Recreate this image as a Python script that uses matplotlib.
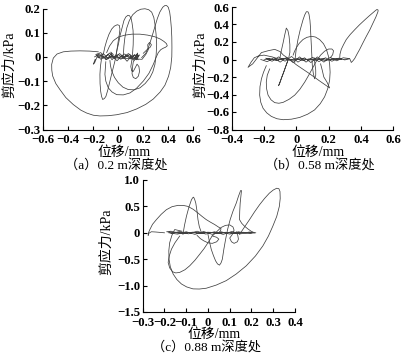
import matplotlib
matplotlib.use("Agg")
import matplotlib.pyplot as plt
from matplotlib.ticker import MultipleLocator, FuncFormatter

plt.rcParams['font.family'] = ['Liberation Serif', 'Noto Sans CJK SC', 'DejaVu Sans']

# ---------------- data (displacement mm, shear stress kPa) ----------------
# Panel (a) 0.2 m depth
a_outer = [(-0.16, 0.021), (-0.23, 0.024), (-0.307, 0.025), (-0.38, 0.024), (-0.44, 0.021),
           (-0.49, 0.012), (-0.52, -0.005), (-0.533, -0.031), (-0.532, -0.055), (-0.525, -0.079),
           (-0.5, -0.11), (-0.467, -0.135), (-0.42, -0.168), (-0.36, -0.197), (-0.3, -0.22),
           (-0.253, -0.232), (-0.2, -0.241), (-0.147, -0.244), (-0.08, -0.243), (-0.013, -0.239),
           (0.07, -0.23), (0.147, -0.215), (0.22, -0.196), (0.28, -0.174), (0.335, -0.145),
           (0.373, -0.117), (0.402, -0.08), (0.419, -0.044), (0.428, 0.0), (0.429, 0.039),
           (0.428, 0.082), (0.424, 0.122), (0.418, 0.158), (0.411, 0.185), (0.4, 0.205),
           (0.387, 0.212), (0.372, 0.212), (0.355, 0.205), (0.332, 0.185), (0.312, 0.158),
           (0.29, 0.12), (0.267, 0.08), (0.245, 0.045), (0.22, 0.015), (0.187, -0.003)]
a_tall = [(-0.133, -0.003), (-0.143, -0.04), (-0.147, -0.072), (-0.146, -0.11), (-0.141, -0.142),
          (-0.134, -0.163), (-0.125, -0.176), (-0.111, -0.172), (-0.099, -0.163), (-0.083, -0.135),
          (-0.067, -0.1), (-0.047, -0.058), (-0.027, -0.017), (-0.012, 0.025), (0.0, 0.067),
          (0.009, 0.095), (0.013, 0.115), (0.008, 0.13), (-0.008, 0.133), (-0.032, 0.127),
          (-0.053, 0.115), (-0.075, 0.093), (-0.093, 0.067), (-0.108, 0.04), (-0.12, 0.01)]
a_top = [(0.04, 0.004), (0.045, 0.045), (0.053, 0.081), (0.068, 0.12), (0.088, 0.15),
         (0.115, 0.174), (0.147, 0.189), (0.18, 0.197), (0.213, 0.199), (0.243, 0.195),
         (0.267, 0.185), (0.284, 0.163), (0.293, 0.136), (0.302, 0.095), (0.307, 0.053),
         (0.303, 0.01), (0.293, -0.031), (0.276, -0.062), (0.253, -0.086), (0.215, -0.11),
         (0.173, -0.128), (0.125, -0.136), (0.08, -0.135), (0.037, -0.125), (0.0, -0.107),
         (-0.03, -0.085), (-0.053, -0.058), (-0.063, -0.035), (-0.067, -0.015)]
a_mid = [(-0.093, 0.018), (-0.07, 0.045), (-0.04, 0.067), (0.0, 0.082), (0.053, 0.09),
         (0.11, 0.094), (0.173, 0.094), (0.235, 0.09), (0.293, 0.083), (0.335, 0.074),
         (0.365, 0.064), (0.385, 0.055), (0.392, 0.046), (0.378, 0.04), (0.36, 0.036),
         (0.34, 0.03), (0.32, 0.018), (0.3, -0.005), (0.28, -0.031), (0.245, -0.068),
         (0.2, -0.1), (0.145, -0.13), (0.093, -0.149), (0.04, -0.157), (-0.013, -0.156),
         (-0.05, -0.145), (-0.08, -0.128), (-0.1, -0.1), (-0.107, -0.072), (-0.1, -0.02)]
a_inner = [(-0.02, 0.0), (-0.01, 0.03), (0.0, 0.05), (0.015, 0.09), (0.03, 0.12), (0.045, 0.15),
           (0.06, 0.165), (0.077, 0.172), (0.09, 0.17), (0.103, 0.158), (0.11, 0.14),
           (0.118, 0.11), (0.12, 0.08), (0.119, 0.05), (0.115, 0.02), (0.108, -0.015),
           (0.1, -0.04), (0.108, -0.058), (0.12, -0.06), (0.135, -0.045), (0.15, -0.03),
           (0.165, -0.04), (0.17, -0.06), (0.16, -0.08), (0.14, -0.09), (0.12, -0.085),
           (0.11, -0.07), (0.113, -0.045), (0.12, -0.02), (0.15, 0.0)]
a_knot = [(0.2, 0.015), (0.23, 0.03), (0.255, 0.04), (0.265, 0.05), (0.25, 0.06), (0.235, 0.05),
          (0.24, 0.03), (0.22, 0.01), (0.19, -0.01), (-0.17, 0.0), (-0.19, -0.025),
          (-0.2, -0.03), (-0.185, -0.01)]
a_noise = [(-0.19, 0.0), (-0.15, 0.012), (-0.12, -0.005), (-0.08, 0.01), (-0.05, -0.012),
           (-0.02, 0.008), (0.02, -0.01), (0.06, 0.006), (0.1, -0.008), (0.13, 0.01),
           (0.15, -0.006), (0.17, 0.008), (0.14, 0.004), (0.16, -0.012), (0.12, 0.0),
           (0.08, 0.014), (0.04, -0.006), (0.0, 0.01), (-0.04, -0.004), (-0.07, 0.016),
           (-0.1, 0.002), (-0.14, -0.01), (-0.17, 0.008), (-0.13, 0.004), (-0.09, -0.01),
           (-0.06, 0.012), (-0.03, -0.006), (0.01, 0.014), (0.05, -0.004), (0.09, 0.01),
           (0.12, -0.014), (0.15, 0.012), (0.14, -0.004), (0.16, 0.004), (0.13, -0.008),
           (0.155, 0.016), (0.145, -0.012), (0.1, 0.0), (0.07, -0.018), (0.03, 0.006),
           (-0.01, -0.016), (-0.05, 0.004), (-0.06, 0.02), (-0.04, 0.01), (-0.08, -0.008),
           (-0.12, 0.014), (-0.16, -0.004), (-0.18, 0.01), (-0.14, 0.018), (-0.1, -0.012),
           (-0.05, 0.006), (0.0, -0.004), (0.05, 0.012), (0.1, -0.002), (0.135, 0.006),
           (0.15, -0.002), (0.14, 0.008), (0.16, 0.0)]

# Panel (b) 0.58 m depth
b_right = [(0.268, 0.004), (0.27, 0.06), (0.278, 0.116), (0.292, 0.17), (0.309, 0.228),
           (0.333, 0.285), (0.361, 0.34), (0.39, 0.395), (0.423, 0.452), (0.45, 0.497),
           (0.474, 0.535), (0.49, 0.56), (0.499, 0.572), (0.506, 0.565), (0.505, 0.546),
           (0.492, 0.485), (0.474, 0.415), (0.455, 0.34), (0.433, 0.265), (0.412, 0.19),
           (0.392, 0.116), (0.375, 0.06), (0.361, 0.011), (0.35, -0.015), (0.34, -0.034),
           (0.335, -0.01), (0.33, 0.01), (0.31, 0.005), (0.29, 0.0)]
b_spike1 = [(-0.01, -0.034), (-0.002, 0.1), (0.01, 0.228), (0.024, 0.34), (0.041, 0.452),
            (0.052, 0.51), (0.062, 0.546), (0.072, 0.545), (0.078, 0.52), (0.084, 0.45),
            (0.087, 0.378), (0.09, 0.26), (0.093, 0.153), (0.096, 0.04), (0.099, -0.071),
            (0.105, -0.16), (0.113, -0.221), (0.12, -0.18), (0.12, -0.12), (0.115, -0.05),
            (0.11, 0.02)]
b_spike2 = [(-0.103, 0.004), (-0.093, 0.1), (-0.082, 0.19), (-0.072, 0.28), (-0.062, 0.359),
            (-0.052, 0.33), (-0.045, 0.265), (-0.04, 0.17), (-0.04, 0.08), (-0.048, 0.01),
            (-0.06, -0.05), (-0.075, -0.13), (-0.09, -0.2), (-0.1, -0.26), (-0.11, -0.3),
            (-0.1, -0.25), (-0.085, -0.18), (-0.068, -0.09), (-0.05, 0.0)]
b_low1 = [(-0.186, -0.071), (-0.203, -0.145), (-0.216, -0.221), (-0.225, -0.31), (-0.227, -0.407),
          (-0.22, -0.49), (-0.206, -0.557), (-0.183, -0.61), (-0.155, -0.65), (-0.12, -0.677),
          (-0.082, -0.688), (-0.03, -0.682), (0.021, -0.662), (0.07, -0.625), (0.113, -0.576),
          (0.148, -0.505), (0.175, -0.426), (0.194, -0.335), (0.206, -0.239), (0.209, -0.145),
          (0.206, -0.052), (0.199, 0.035), (0.186, 0.116), (0.168, 0.18), (0.144, 0.228),
          (0.118, 0.257), (0.093, 0.265), (0.065, 0.253), (0.041, 0.228), (0.018, 0.185),
          (0.0, 0.135), (-0.012, 0.09), (-0.02, 0.05)]
b_low2 = [(-0.165, -0.108), (-0.18, -0.18), (-0.186, -0.258), (-0.184, -0.335), (-0.175, -0.407),
          (-0.157, -0.46), (-0.134, -0.493), (-0.108, -0.5), (-0.082, -0.49), (-0.045, -0.455),
          (-0.01, -0.407), (0.022, -0.34), (0.052, -0.258), (0.078, -0.175), (0.103, -0.09),
          (0.125, -0.015), (0.15, 0.05), (0.175, 0.095), (0.2, 0.12), (0.22, 0.12),
          (0.23, 0.1), (0.225, 0.055), (0.21, 0.02)]
b_wing = [(-0.1, 0.0), (-0.15, 0.03), (-0.2, 0.05), (-0.235, 0.04), (-0.26, 0.02), (-0.28, -0.03),
          (-0.299, -0.09), (-0.285, -0.07), (-0.27, -0.05), (-0.245, 0.01), (-0.216, 0.079),
          (-0.175, 0.1), (-0.134, 0.116), (-0.1, 0.09), (-0.08, 0.05), (-0.04, 0.0),
          (0.0, -0.06), (0.04, -0.11), (0.08, -0.16), (0.14, -0.24), (0.206, -0.325),
          (0.19, -0.26), (0.17, -0.2), (0.16, -0.12), (0.15, -0.05)]
b_noise = [(-0.22, 0.0), (-0.18, -0.025), (-0.14, 0.02), (-0.1, -0.03), (-0.06, 0.025),
           (-0.02, -0.035), (0.02, 0.03), (0.06, -0.03), (0.1, 0.025), (0.14, -0.025),
           (0.18, 0.02), (0.22, -0.02), (0.26, 0.015), (0.3, -0.005), (0.33, 0.01),
           (0.29, 0.02), (0.25, -0.015), (0.21, 0.025), (0.17, -0.03), (0.13, 0.03),
           (0.09, -0.035), (0.05, 0.02), (0.01, -0.03), (-0.03, 0.035), (-0.07, -0.02),
           (-0.11, 0.03), (-0.15, -0.02), (-0.19, 0.015), (-0.16, 0.005), (-0.12, -0.012),
           (-0.08, 0.012), (-0.04, -0.008), (0.0, 0.01), (0.04, -0.012), (0.08, 0.008),
           (0.12, -0.01), (0.16, 0.012), (0.2, -0.006), (0.24, 0.004), (0.28, 0.0),
           (0.23, 0.012), (0.18, -0.012), (0.13, 0.01), (0.08, -0.006), (0.03, 0.012),
           (-0.02, -0.01), (-0.07, 0.014), (-0.12, -0.006), (-0.17, 0.008), (-0.2, -0.004)]

# Panel (c) 0.88 m depth
c_big = [(0.145, -0.031), (0.168, 0.11), (0.191, 0.25), (0.213, 0.39), (0.237, 0.531),
         (0.26, 0.65), (0.282, 0.75), (0.3, 0.81), (0.316, 0.844), (0.326, 0.835),
         (0.331, 0.781), (0.332, 0.65), (0.328, 0.5), (0.316, 0.31), (0.298, 0.125),
         (0.278, -0.06), (0.252, -0.25), (0.218, -0.44), (0.176, -0.625), (0.13, -0.78),
         (0.084, -0.906), (0.038, -0.99), (-0.008, -1.05), (-0.04, -1.065), (-0.069, -1.062),
         (-0.098, -1.025), (-0.122, -0.969), (-0.143, -0.885), (-0.16, -0.781), (-0.173, -0.645),
         (-0.179, -0.5), (-0.18, -0.34), (-0.176, -0.188), (-0.166, -0.05), (-0.153, 0.062),
         (-0.12, 0.03)]
c_left = [(-0.2, 0.0), (-0.24, 0.015), (-0.26, 0.02), (-0.272, -0.01), (-0.275, -0.05),
          (-0.273, 0.005), (-0.267, 0.062), (-0.255, 0.16), (-0.237, 0.25), (-0.215, 0.35),
          (-0.191, 0.438), (-0.165, 0.495), (-0.137, 0.52), (-0.113, 0.518), (-0.092, 0.5),
          (-0.068, 0.445), (-0.046, 0.375), (-0.027, 0.31), (-0.008, 0.25), (0.012, 0.2),
          (0.031, 0.156), (0.046, 0.115), (0.06, 0.08), (0.058, 0.04), (0.05, 0.0)]
c_inner = [(-0.13, -0.062), (-0.152, -0.19), (-0.168, -0.312), (-0.178, -0.44), (-0.183, -0.562),
           (-0.176, -0.665), (-0.163, -0.738), (-0.148, -0.76), (-0.13, -0.75), (-0.106, -0.7),
           (-0.084, -0.625), (-0.06, -0.52), (-0.038, -0.406), (-0.018, -0.3), (0.0, -0.188),
           (0.012, -0.11), (0.02, -0.05)]
c_spike = [(-0.115, -0.031), (-0.108, 0.14), (-0.099, 0.312), (-0.088, 0.48), (-0.076, 0.625),
           (-0.07, 0.665), (-0.066, 0.675), (-0.061, 0.63), (-0.056, 0.562), (-0.05, 0.4),
           (-0.046, 0.25), (-0.04, 0.12), (-0.03, 0.0)]
c_zig = [(0.0, -0.031), (0.007, -0.17), (0.015, -0.312), (0.025, -0.43), (0.035, -0.531),
         (0.044, -0.59), (0.053, -0.612), (0.06, -0.57), (0.066, -0.5), (0.073, -0.31),
         (0.081, -0.125), (0.09, 0.06), (0.102, 0.25), (0.115, 0.41), (0.13, 0.562),
         (0.14, 0.69), (0.15, 0.8), (0.154, 0.8), (0.151, 0.68), (0.148, 0.562),
         (0.146, 0.41), (0.145, 0.25), (0.155, 0.18), (0.168, 0.125), (0.183, 0.075),
         (0.198, 0.031), (0.214, 0.0)]
c_loops = [(-0.05, -0.05), (-0.035, -0.11), (-0.02, -0.15), (0.0, -0.19), (0.02, -0.2),
           (0.04, -0.17), (0.05, -0.12), (0.04, -0.085), (0.02, -0.06), (0.04, 0.02),
           (0.06, 0.1), (0.08, 0.14), (0.1, 0.15), (0.115, 0.11), (0.12, 0.05),
           (0.112, -0.03), (0.1, -0.1), (0.108, -0.17), (0.12, -0.2), (0.135, -0.17),
           (0.14, -0.12), (0.137, -0.05), (0.13, 0.02)]
c_noise = [(-0.18, 0.0), (-0.14, -0.025), (-0.1, 0.02), (-0.06, -0.03), (-0.02, 0.025),
           (0.02, -0.03), (0.06, 0.02), (0.1, -0.025), (0.14, 0.02), (0.18, -0.015),
           (0.22, 0.0), (0.19, 0.015), (0.15, -0.02), (0.11, 0.025), (0.07, -0.03),
           (0.03, 0.02), (-0.01, -0.025), (-0.05, 0.03), (-0.09, -0.02), (-0.13, 0.025),
           (-0.17, -0.015), (-0.15, 0.01), (-0.11, -0.01), (-0.07, 0.012), (-0.03, -0.008),
           (0.01, 0.01), (0.05, -0.012), (0.09, 0.008), (0.13, -0.006), (0.17, 0.006),
           (0.2, 0.0), (0.16, 0.01), (0.12, -0.012), (0.08, 0.01), (0.04, -0.008),
           (0.0, 0.012), (-0.04, -0.01), (-0.08, 0.008), (-0.12, -0.008), (-0.16, 0.006),
           (-0.19, 0.02), (-0.17, 0.03), (-0.14, 0.0)]

panels = [
    dict(rect=[43.3, 8.5, 193.3, 129.5], xlim=(-0.6, 0.6), xstep=0.2, ylim=(-0.3, 0.2), ystep=0.1,
         loops=[a_outer, a_tall, a_top, a_mid, a_inner, a_knot, a_noise], ylab_x=10,
         xlab=(124, 152.5), cap=(116, 166.5), caption='（a）0.2 m深度处'),
    dict(rect=[231.7, 7.0, 393.3, 129.5], xlim=(-0.4, 0.6), xstep=0.2, ylim=(-0.8, 0.6), ystep=0.2,
         loops=[b_right, b_spike1, b_spike2, b_low1, b_low2, b_wing, b_noise], ylab_x=201,
         xlab=(318, 152.5), cap=(320, 166.5), caption='（b）0.58 m深度处'),
    dict(rect=[142.7, 180.0, 295.0, 312.0], xlim=(-0.3, 0.4), xstep=0.1, ylim=(-1.5, 1.0), ystep=0.5,
         loops=[c_big, c_left, c_inner, c_spike, c_zig, c_loops, c_noise], ylab_x=107,
         xlab=(214, 334), cap=(207, 348.5), caption='（c）0.88 m深度处'),
]

W, H = 408, 360
fig = plt.figure(figsize=(W / 100, H / 100), dpi=100)


def fmt(v, pos):
    if abs(v) < 1e-9:
        return '0'
    return ('%.1f' % v).replace('-', '\u2212')


for p in panels:
    l, t, r, b = p['rect']
    ax = fig.add_axes([l / W, 1 - b / H, (r - l) / W, (b - t) / H])
    for lp in p['loops']:
        xs, ys = zip(*lp)
        ax.plot(xs, ys, color='#404040', lw=0.55, clip_on=False)
    ax.set_xlim(*p['xlim'])
    ax.set_ylim(*p['ylim'])
    ax.xaxis.set_major_locator(MultipleLocator(p['xstep']))
    ax.yaxis.set_major_locator(MultipleLocator(p['ystep']))
    ax.xaxis.set_major_formatter(FuncFormatter(fmt))
    ax.yaxis.set_major_formatter(FuncFormatter(fmt))
    for s in ['top', 'right']:
        ax.spines[s].set_visible(False)
    for s in ['left', 'bottom']:
        ax.spines[s].set_linewidth(0.8)
    ax.tick_params(direction='in', length=3, width=0.8, labelsize=9.2)
    ax.tick_params(axis='x', pad=3.5)
    ax.tick_params(axis='y', pad=2)
    for lab in ax.get_xticklabels() + ax.get_yticklabels():
        lab.set_fontweight('bold')
    fig.text(p['ylab_x'] / W, 1 - ((t + b) / 2 - 4) / H, '剪应力/kPa', rotation=90,
             ha='center', va='center', fontsize=10)
    fig.text(p['xlab'][0] / W, 1 - p['xlab'][1] / H, '位移/mm', ha='center', va='center',
             fontsize=10)
    fig.text(p['cap'][0] / W, 1 - p['cap'][1] / H, p['caption'], ha='center', va='center',
             fontsize=9.5)

fig.savefig('out.png', dpi=100)
